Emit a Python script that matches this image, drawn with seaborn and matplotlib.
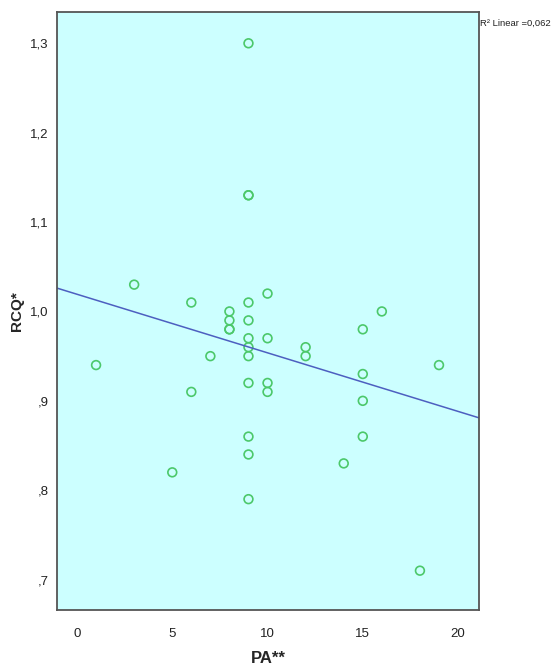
import numpy as np
import pandas as pd
import matplotlib
matplotlib.use("Agg")
import matplotlib.pyplot as plt
import matplotlib.ticker as mticker
import seaborn as sns

# PA** (x) and RCQ* (y) values
pa = [1, 3, 5, 6, 6, 7,
      8, 8, 8, 8,
      9, 9, 9, 9, 9, 9, 9, 9, 9, 9, 9, 9,
      10, 10, 10, 10,
      12, 12, 14,
      15, 15, 15, 15,
      16, 18, 19]
rcq = [0.94, 1.03, 0.82, 1.01, 0.91, 0.95,
       1.00, 0.99, 0.98, 0.98,
       1.30, 1.13, 1.13, 1.01, 0.99, 0.97, 0.96, 0.95, 0.92, 0.86, 0.84, 0.79,
       1.02, 0.97, 0.92, 0.91,
       0.96, 0.95, 0.83,
       0.98, 0.93, 0.90, 0.86,
       1.00, 0.71, 0.94]
x_ticks = [0, 5, 10, 15, 20]
y_ticks = [0.7, 0.8, 0.9, 1.0, 1.1, 1.2, 1.3]

df = pd.DataFrame({"PA": pa, "RCQ": rcq})

sns.set_style("white")
plt.rcParams['font.family'] = ['Liberation Sans', 'DejaVu Sans']

fig = plt.figure(figsize=(5.57, 6.72), dpi=100)
ax = fig.add_axes([57 / 557, 1 - 610 / 672, 422 / 557, 598 / 672])
ax.set_facecolor('#CCFFFF')

# regression line over the whole axis range, like SPSS fit line
slope, intercept = np.polyfit(df["PA"], df["RCQ"], 1)
r2 = np.corrcoef(df["PA"], df["RCQ"])[0, 1] ** 2
xs = np.array([-1.05, 21.1])
sns.lineplot(x=xs, y=intercept + slope * xs, ax=ax, color='#4D5FC0', lw=1.1)

sns.scatterplot(data=df, x="PA", y="RCQ", ax=ax, marker='o', s=40,
                facecolors='none', edgecolor='#4CC86A', linewidth=1.2)

ax.set_xlim(-1.05, 21.1)
ax.set_ylim(0.666, 1.335)
ax.set_xticks(x_ticks)
ax.set_yticks(y_ticks)


def comma_fmt(v, pos):
    s = f"{v:.1f}".replace('.', ',')
    if s.startswith('0'):
        s = s[1:]
    return s


ax.yaxis.set_major_formatter(mticker.FuncFormatter(comma_fmt))
ax.tick_params(axis='both', direction='out', length=5, width=1.5,
               color='#333333', labelsize=9.5, labelcolor='#222222')
ax.tick_params(axis='x', pad=8)
ax.tick_params(axis='y', pad=1)

for sp in ax.spines.values():
    sp.set_color('#555555')
    sp.set_linewidth(1.3)

ax.set_xlabel('PA**', fontsize=12, fontweight='bold', labelpad=8)
ax.set_ylabel('RCQ*', fontsize=11, fontweight='bold', labelpad=4)

fig.text(480 / 557, 1 - 23 / 672, 'R² Linear =' + f"{r2:.3f}".replace('.', ','),
         fontsize=6.8, va='center', ha='left', color='#222222')

fig.savefig('out.png', dpi=100)
